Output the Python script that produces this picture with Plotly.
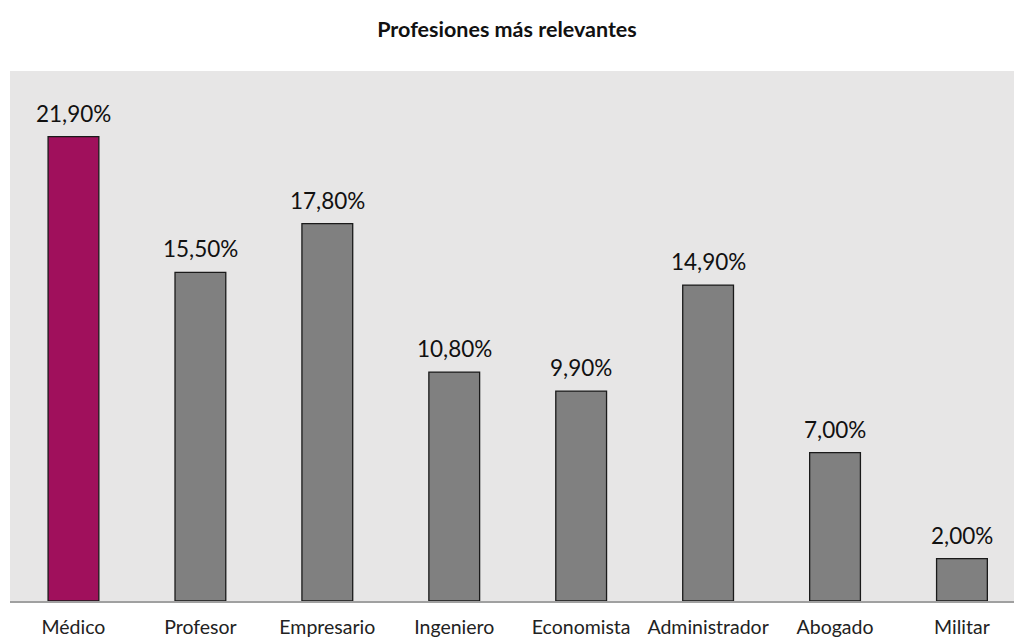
import plotly.graph_objects as go

categories = ["Médico", "Profesor", "Empresario", "Ingeniero", "Economista",
              "Administrador", "Abogado", "Militar"]
values = [21.9, 15.5, 17.8, 10.8, 9.9, 14.9, 7.0, 2.0]
value_labels = ["21,90%", "15,50%", "17,80%", "10,80%", "9,90%", "14,90%", "7,00%", "2,00%"]

colors = ["#A0105C"] + ["#808080"] * (len(categories) - 1)

FONT = "Lato, 'Open Sans', sans-serif"

fig = go.Figure()
fig.add_trace(go.Bar(
    x=categories,
    y=values,
    width=0.4,
    marker=dict(color=colors, line=dict(color="#1a1a1a", width=1.3)),
    hoverinfo="x+y",
))

for cat, v, lab in zip(categories, values, value_labels):
    fig.add_annotation(
        x=cat, y=v, text=lab, showarrow=False,
        yanchor="bottom", yshift=8,
        font=dict(family=FONT, size=22.5, color="#111111"),
    )

fig.update_layout(
    width=1014, height=637,
    margin=dict(l=10, r=0, t=71, b=36),
    paper_bgcolor="white",
    plot_bgcolor="#E7E6E6",
    showlegend=False,
    title=dict(
        text="<b>Profesiones más relevantes</b>",
        x=0.5, xanchor="center", y=0.953, yanchor="middle",
        font=dict(family=FONT, size=21.5, color="#111111"),
    ),
    xaxis=dict(
        range=[-0.5, 7.41],
        showgrid=False,
        showline=True, linecolor="#A0A0A0", linewidth=2,
        ticks="", ticklabelstandoff=8,
        tickfont=dict(family=FONT, size=19.5, color="#222222"),
        fixedrange=True,
    ),
    yaxis=dict(
        range=[0, 25],
        showgrid=False, zeroline=False,
        showticklabels=False, ticks="",
        fixedrange=True,
    ),
)

fig.write_html("out.html")
